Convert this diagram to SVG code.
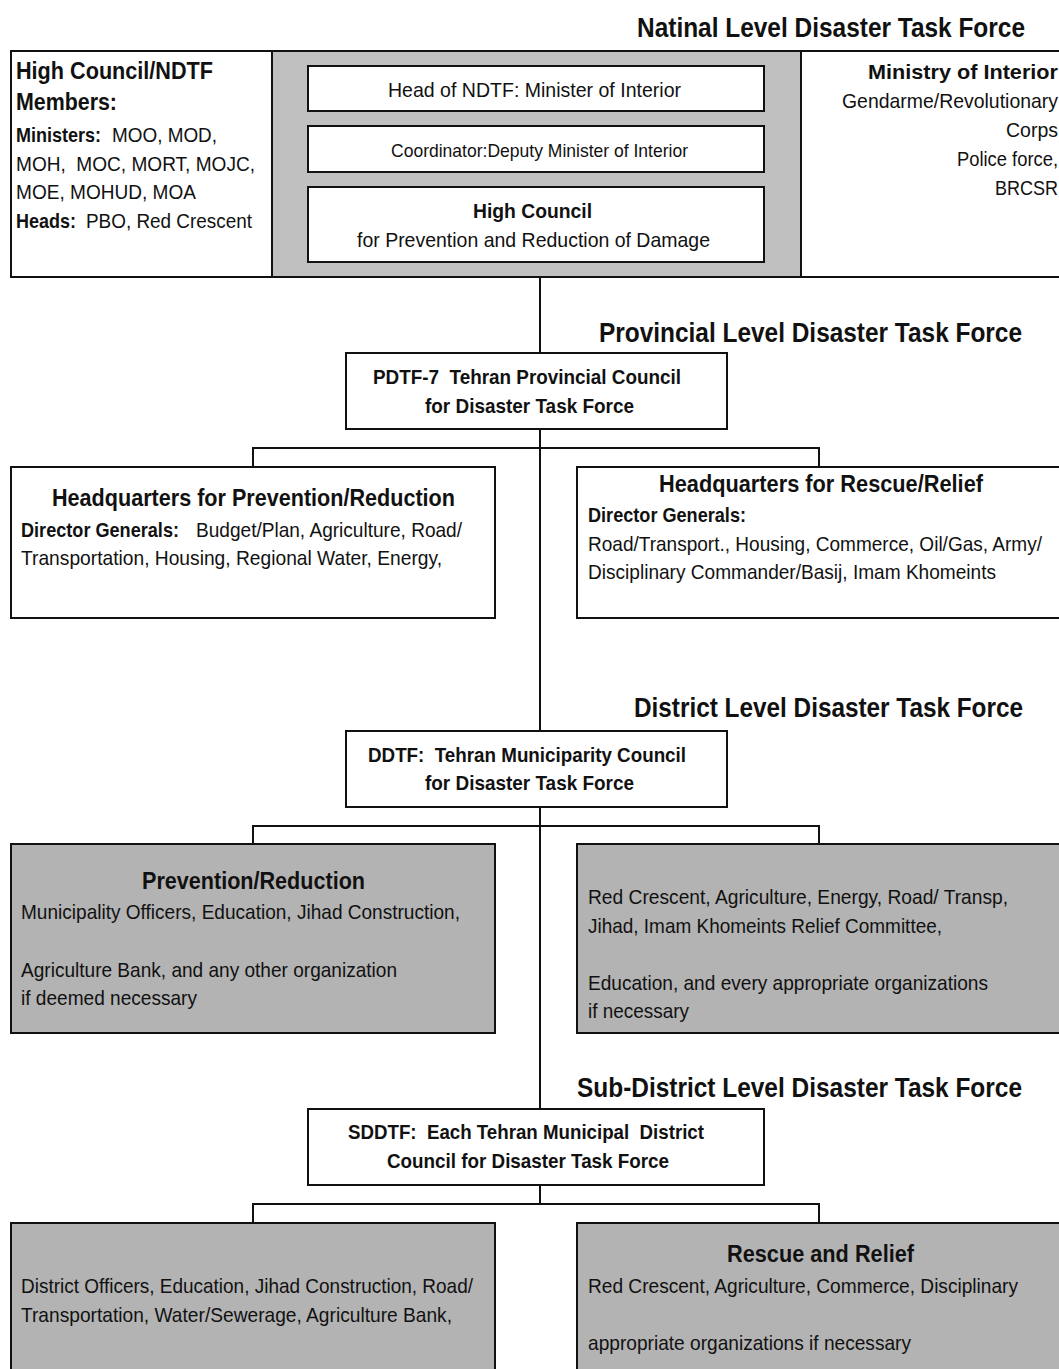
<svg xmlns="http://www.w3.org/2000/svg" width="1059" height="1369" viewBox="0 0 1059 1369">
<style>
text{font-family:"Liberation Sans",Arial,sans-serif;fill:#111;}
.h{font-size:28px;font-weight:bold;}
.t{font-size:21px;}
.b{font-weight:bold;}
.m{font-size:23px;font-weight:bold;}
.s{font-size:19px;}
.w{fill:#fff;stroke:#111;stroke-width:2;}
.g{fill:#b3b3b3;stroke:#111;stroke-width:2;}
.lg{fill:#c0c0c0;stroke:#111;stroke-width:2;}
.ln{fill:none;stroke:#111;stroke-width:2;}
</style>
<rect width="1059" height="1369" fill="#fff"/>
<g id="level-labels">
<text class="h" x="637" y="37" textLength="388" lengthAdjust="spacingAndGlyphs">Natinal Level Disaster Task Force</text>
<text class="h" x="599" y="342" textLength="423" lengthAdjust="spacingAndGlyphs">Provincial Level Disaster Task Force</text>
<text class="h" x="634" y="717" textLength="389" lengthAdjust="spacingAndGlyphs">District Level Disaster Task Force</text>
<text class="h" x="577" y="1097" textLength="445" lengthAdjust="spacingAndGlyphs">Sub-District Level Disaster Task Force</text>
</g>

<g id="connectors">
<path class="ln" d="M540 111V126M540 172V187M540 277V1109"/>
<path class="ln" d="M540 429V448M253 467V448H819V467"/>
<path class="ln" d="M253 844V826H819V844"/>
<path class="ln" d="M540 1185V1204M253 1223V1204H819V1223"/>
</g>

<g id="national-gray"><rect class="lg" x="272" y="51" width="529" height="226"/></g>
<g id="high-council-members">
<rect class="w" x="11" y="51" width="261" height="226"/>
<text class="m" x="16" y="79" textLength="197" lengthAdjust="spacingAndGlyphs">High Council/NDTF</text>
<text class="m" x="16" y="110" textLength="101" lengthAdjust="spacingAndGlyphs">Members:</text>
<text class="t b" x="16" y="142" textLength="85" lengthAdjust="spacingAndGlyphs">Ministers:</text>
<text class="t" x="112" y="142" textLength="105" lengthAdjust="spacingAndGlyphs">MOO, MOD,</text>
<text class="t" x="16" y="171" textLength="239" lengthAdjust="spacingAndGlyphs" xml:space="preserve">MOH,  MOC, MORT, MOJC,</text>
<text class="t" x="16" y="199" textLength="180" lengthAdjust="spacingAndGlyphs">MOE, MOHUD, MOA</text>
<text class="t b" x="16" y="228" textLength="60" lengthAdjust="spacingAndGlyphs">Heads:</text>
<text class="t" x="86" y="228" textLength="166" lengthAdjust="spacingAndGlyphs">PBO, Red Crescent</text>
</g>
<g id="head-ndtf">
<rect class="w" x="308" y="66" width="456" height="45"/>
<text class="t" x="388" y="97" textLength="293" lengthAdjust="spacingAndGlyphs">Head of NDTF: Minister of Interior</text>
</g>
<g id="coordinator">
<rect class="w" x="308" y="126" width="456" height="46"/>
<text class="s" x="391" y="157" textLength="297" lengthAdjust="spacingAndGlyphs">Coordinator:Deputy Minister of Interior</text>
</g>
<g id="high-council">
<rect class="w" x="308" y="187" width="456" height="75"/>
<text class="t b" x="473" y="218" textLength="119" lengthAdjust="spacingAndGlyphs">High Council</text>
<text class="t" x="357" y="247" textLength="353" lengthAdjust="spacingAndGlyphs">for Prevention and Reduction of Damage</text>
</g>
<g id="ministry-interior">
<rect class="w" x="801" y="51" width="270" height="226"/>
<text class="t b" x="868" y="79" textLength="190" lengthAdjust="spacingAndGlyphs">Ministry of Interior</text>
<text class="t" x="842" y="108" textLength="216" lengthAdjust="spacingAndGlyphs">Gendarme/Revolutionary</text>
<text class="t" x="1006" y="137" textLength="52" lengthAdjust="spacingAndGlyphs">Corps</text>
<text class="t" x="957" y="166" textLength="101" lengthAdjust="spacingAndGlyphs">Police force,</text>
<text class="t" x="995" y="195" textLength="63" lengthAdjust="spacingAndGlyphs">BRCSR</text>
</g>

<g id="pdtf">
<rect class="w" x="346" y="353" width="381" height="76"/>
<text class="t b" x="373" y="384" textLength="308" lengthAdjust="spacingAndGlyphs" xml:space="preserve">PDTF-7  Tehran Provincial Council</text>
<text class="t b" x="425" y="413" textLength="209" lengthAdjust="spacingAndGlyphs">for Disaster Task Force</text>
</g>
<g id="hq-prevention">
<rect class="w" x="11" y="467" width="484" height="151"/>
<text class="m" x="52" y="506" textLength="403" lengthAdjust="spacingAndGlyphs">Headquarters for Prevention/Reduction</text>
<text class="t b" x="21" y="537" textLength="158" lengthAdjust="spacingAndGlyphs">Director Generals:</text>
<text class="t" x="196" y="537" textLength="266" lengthAdjust="spacingAndGlyphs">Budget/Plan, Agriculture, Road/</text>
<text class="t" x="21" y="565" textLength="421" lengthAdjust="spacingAndGlyphs">Transportation, Housing, Regional Water, Energy,</text>
</g>
<g id="hq-rescue">
<rect class="w" x="577" y="467" width="500" height="151"/>
<text class="m" x="659" y="492" textLength="324" lengthAdjust="spacingAndGlyphs">Headquarters for Rescue/Relief</text>
<text class="t b" x="588" y="522" textLength="158" lengthAdjust="spacingAndGlyphs">Director Generals:</text>
<text class="t" x="588" y="551" textLength="454" lengthAdjust="spacingAndGlyphs">Road/Transport., Housing, Commerce, Oil/Gas, Army/</text>
<text class="t" x="588" y="579" textLength="408" lengthAdjust="spacingAndGlyphs">Disciplinary Commander/Basij, Imam Khomeints</text>
</g>

<g id="ddtf">
<rect class="w" x="346" y="731" width="381" height="76"/>
<text class="t b" x="368" y="762" textLength="318" lengthAdjust="spacingAndGlyphs" xml:space="preserve">DDTF:  Tehran Municiparity Council</text>
<text class="t b" x="425" y="790" textLength="209" lengthAdjust="spacingAndGlyphs">for Disaster Task Force</text>
</g>
<g id="district-prevention">
<rect class="g" x="11" y="844" width="484" height="189"/>
<text class="m" x="142" y="889" textLength="223" lengthAdjust="spacingAndGlyphs">Prevention/Reduction</text>
<text class="t" x="21" y="919" textLength="439" lengthAdjust="spacingAndGlyphs">Municipality Officers, Education, Jihad Construction,</text>
<text class="t" x="21" y="977" textLength="376" lengthAdjust="spacingAndGlyphs">Agriculture Bank, and any other organization</text>
<text class="t" x="21" y="1005" textLength="176" lengthAdjust="spacingAndGlyphs">if deemed necessary</text>
</g>
<g id="district-rescue">
<rect class="g" x="577" y="844" width="500" height="189"/>
<text class="t" x="588" y="904" textLength="420" lengthAdjust="spacingAndGlyphs">Red Crescent, Agriculture, Energy, Road/ Transp,</text>
<text class="t" x="588" y="933" textLength="354" lengthAdjust="spacingAndGlyphs">Jihad, Imam Khomeints Relief Committee,</text>
<text class="t" x="588" y="990" textLength="400" lengthAdjust="spacingAndGlyphs">Education, and every appropriate organizations</text>
<text class="t" x="588" y="1018" textLength="101" lengthAdjust="spacingAndGlyphs">if necessary</text>
</g>

<g id="sddtf">
<rect class="w" x="308" y="1109" width="456" height="76"/>
<text class="t b" x="348" y="1139" textLength="356" lengthAdjust="spacingAndGlyphs" xml:space="preserve">SDDTF:  Each Tehran Municipal  District</text>
<text class="t b" x="387" y="1168" textLength="282" lengthAdjust="spacingAndGlyphs">Council for Disaster Task Force</text>
</g>
<g id="subdistrict-prevention">
<rect class="g" x="11" y="1223" width="484" height="160"/>
<text class="t" x="21" y="1293" textLength="452" lengthAdjust="spacingAndGlyphs">District Officers, Education, Jihad Construction, Road/</text>
<text class="t" x="21" y="1322" textLength="431" lengthAdjust="spacingAndGlyphs">Transportation, Water/Sewerage, Agriculture Bank,</text>
</g>
<g id="subdistrict-rescue">
<rect class="g" x="577" y="1223" width="500" height="160"/>
<text class="m" x="727" y="1262" textLength="187" lengthAdjust="spacingAndGlyphs">Rescue and Relief</text>
<text class="t" x="588" y="1293" textLength="430" lengthAdjust="spacingAndGlyphs">Red Crescent, Agriculture, Commerce, Disciplinary</text>
<text class="t" x="588" y="1350" textLength="323" lengthAdjust="spacingAndGlyphs">appropriate organizations if necessary</text>
</g>
</svg>
